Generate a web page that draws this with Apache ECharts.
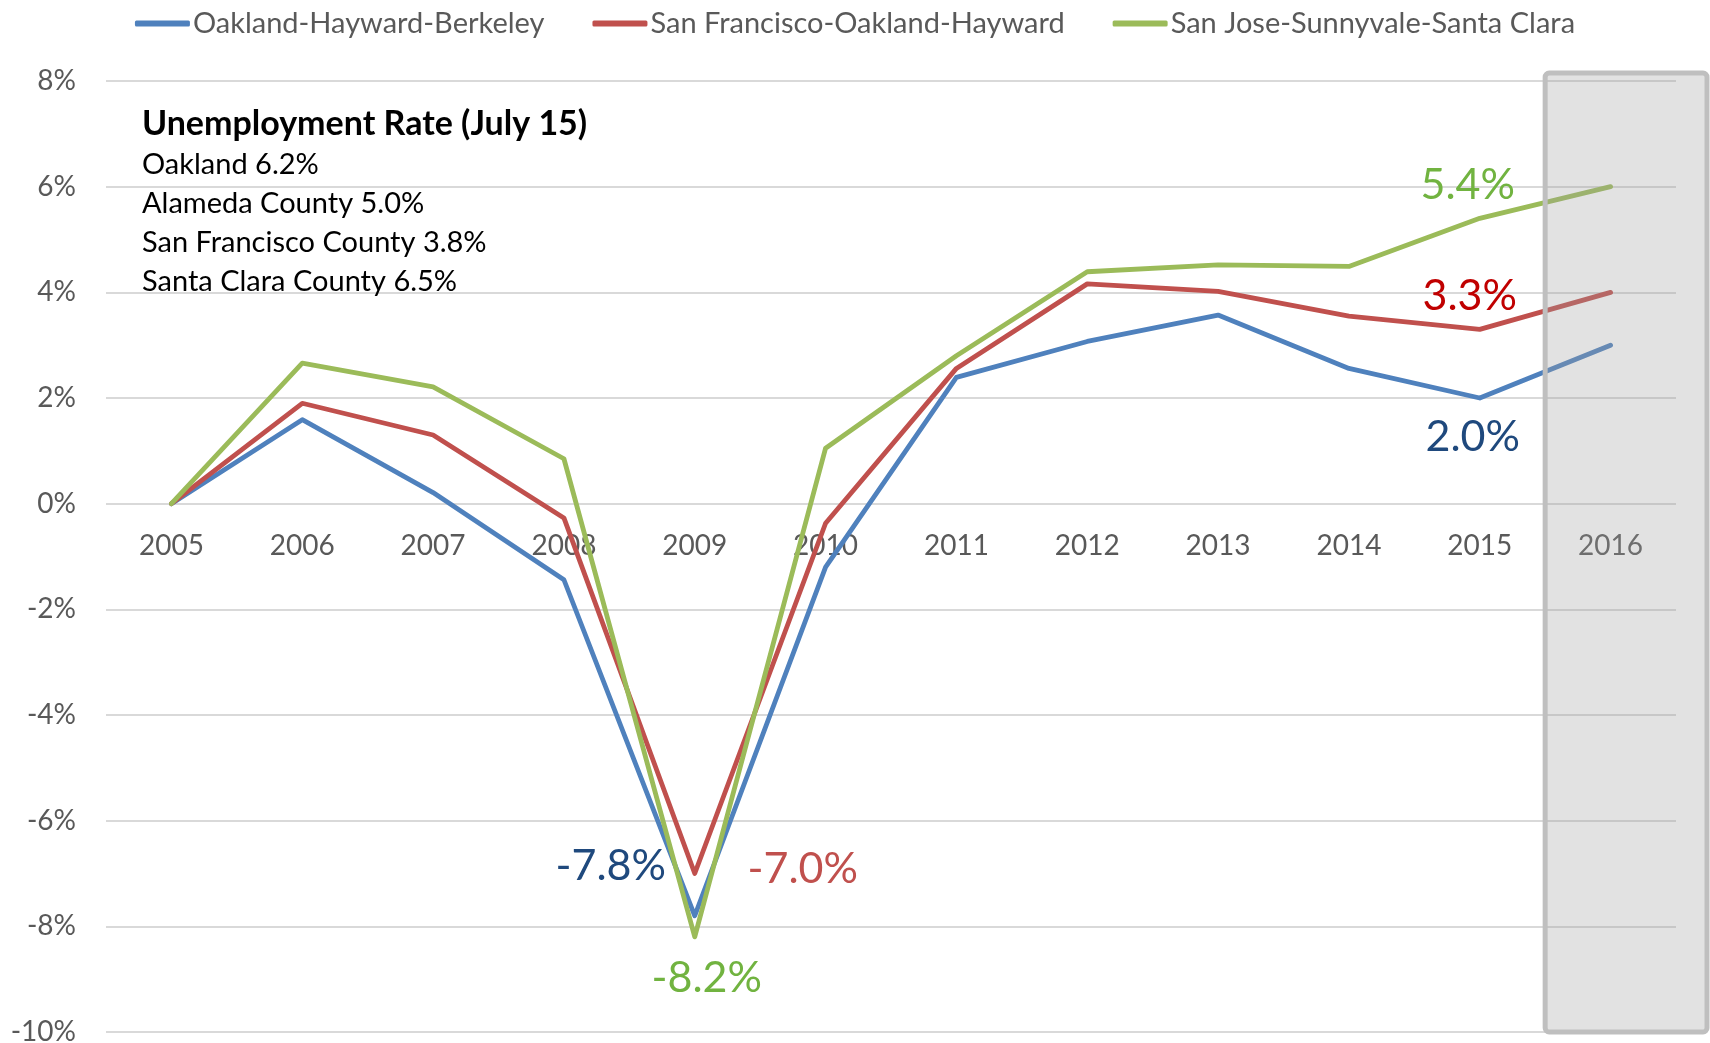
<!DOCTYPE html>
<html>
<head>
<meta charset="utf-8">
<script src="https://cdn.jsdelivr.net/npm/echarts@6/dist/echarts.min.js"></script>
<style>
  html, body { margin: 0; padding: 0; background: #fff; }
  #chart { width: 1710px; height: 1043px; }
</style>
</head>
<body>
<div id="chart"></div>
<script>
// data
const years = ['2005', '2006', '2007', '2008', '2009', '2010', '2011', '2012', '2013', '2014', '2015', '2016'];
const oakland = [0, 1.59, 0.21, -1.44, -7.8, -1.2, 2.39, 3.07, 3.57, 2.56, 2.0, 3.0];
const sanFrancisco = [0, 1.9, 1.3, -0.27, -7.0, -0.37, 2.56, 4.16, 4.02, 3.55, 3.3, 4.0];
const sanJose = [0, 2.66, 2.21, 0.85, -8.2, 1.05, 2.8, 4.39, 4.52, 4.49, 5.4, 6.0];
const seriesNames = ['Oakland-Hayward-Berkeley', 'San Francisco-Oakland-Hayward', 'San Jose-Sunnyvale-Santa Clara'];
const yTicks = { min: -10, max: 8, interval: 2 };
const noteTitle = 'Unemployment Rate (July 15)';
const noteLines = ['Oakland 6.2%', 'Alameda County 5.0%', 'San Francisco County 3.8%', 'Santa Clara County 6.5%'];

const FONT = 'Lato, "Open Sans", sans-serif';

// callout labels: index of point -> look
const callouts = [
  { 4: { color: '#1f497d', offset: [-84, -50] }, 10: { color: '#1f497d', offset: [-7, 39] } },
  { 4: { color: '#c0504d', offset: [108, -4] }, 10: { color: '#c00000', offset: [-10, -33] } },
  { 4: { color: '#71b340', offset: [12, 41] }, 10: { color: '#71b340', offset: [-12, -33] } }
];
const colors = ['#4f81bd', '#c0504d', '#9bbb59'];

function buildData(values, marks) {
  return values.map(function (v, i) {
    if (!marks[i]) return v;
    return {
      value: v,
      label: {
        show: true,
        position: 'inside',
        offset: marks[i].offset,
        color: marks[i].color,
        fontSize: 43,
        fontFamily: FONT,
        formatter: function (p) { return p.value.toFixed(1) + '%'; }
      }
    };
  });
}

const chart = echarts.init(document.getElementById('chart'));

const series = [oakland, sanFrancisco, sanJose].map(function (vals, k) {
  return {
    name: seriesNames[k],
    type: 'line',
    data: buildData(vals, callouts[k]),
    symbol: 'circle',
    symbolSize: 2,
    showSymbol: true,
    itemStyle: { color: 'rgba(0,0,0,0)' },
    lineStyle: { color: colors[k], width: 4.8, cap: 'round', join: 'round' },
    emphasis: { disabled: true },
    z: 3 + k
  };
});

chart.setOption({
  animation: false,
  color: colors,
  grid: { left: 106, right: 34, top: 81, bottom: 11, containLabel: false, outerBoundsMode: 'none' },
  legend: {
    top: 4,
    left: 'center',
    itemGap: 48,
    itemWidth: 55,
    itemHeight: 6,
    icon: 'roundRect',
    textStyle: { fontSize: 29, color: '#595959', fontFamily: FONT, padding: [0, 0, 0, -2] },
    data: seriesNames.map(function (n, k) { return { name: n, itemStyle: { color: colors[k] } }; })
  },
  xAxis: {
    type: 'category',
    data: years,
    boundaryGap: true,
    position: 'bottom',
    axisLine: { show: false, onZero: false },
    axisTick: { show: false },
    axisLabel: { fontSize: 28, color: '#595959', fontFamily: FONT, margin: 28 }
  },
  yAxis: {
    type: 'value',
    min: yTicks.min,
    max: yTicks.max,
    interval: yTicks.interval,
    axisLine: { show: false },
    axisTick: { show: false },
    axisLabel: { fontSize: 28, color: '#595959', fontFamily: FONT, margin: 30, formatter: '{value}%' },
    splitLine: { lineStyle: { color: '#d9d9d9', width: 2 } }
  },
  series: series
});

// move the category labels up to the 0% line, then add the shaded 2016 box and the note
const mid = (chart.convertToPixel({ xAxisIndex: 0 }, '2015') + chart.convertToPixel({ xAxisIndex: 0 }, '2016')) / 2;
const topY = chart.convertToPixel({ yAxisIndex: 0 }, yTicks.max);
const botY = chart.convertToPixel({ yAxisIndex: 0 }, yTicks.min);
const zeroY = chart.convertToPixel({ yAxisIndex: 0 }, 0);

chart.setOption({
  xAxis: { offset: zeroY - botY },
  graphic: [
    {
      type: 'rect',
      z: 100,
      shape: { x: mid, y: topY - 8, width: 1707 - mid, height: botY - topY + 8, r: 4 },
      style: { fill: 'rgba(160,160,160,0.3)', stroke: '#bfbfbf', lineWidth: 5 }
    },
    {
      type: 'text',
      z: 50,
      left: 142,
      top: 107,
      style: { text: noteTitle, font: 'bold 34px ' + FONT, fill: '#000' }
    }
  ].concat(noteLines.map(function (t, i) {
    return {
      type: 'text',
      z: 50,
      left: 142,
      top: 150 + i * 39,
      style: { text: t, font: '29px ' + FONT, fill: '#000' }
    };
  }))
});
</script>
</body>
</html>
